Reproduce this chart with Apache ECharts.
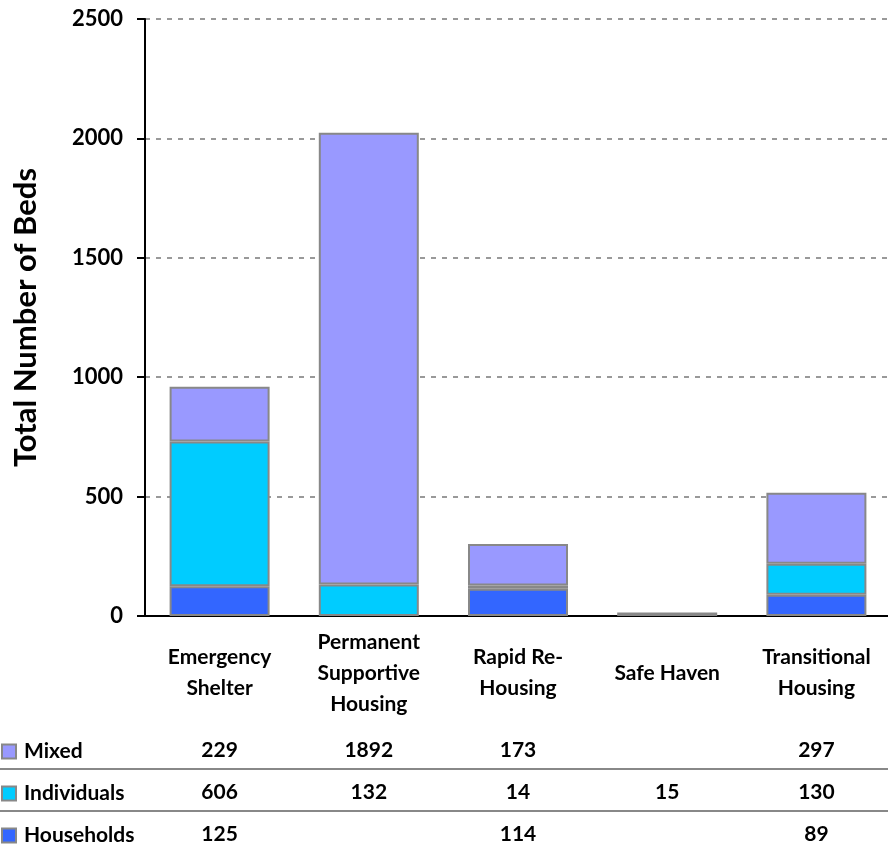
<!DOCTYPE html>
<html>
<head>
<meta charset="utf-8">
<script src="https://cdn.jsdelivr.net/npm/echarts@6/dist/echarts.min.js"></script>
<style>html,body{margin:0;padding:0;background:#fff}#c{width:888px;height:846px}</style>
</head>
<body>
<div id="c"></div>
<script>
var categories = ['Emergency\nShelter', 'Permanent\nSupportive\nHousing', 'Rapid Re-\nHousing', 'Safe Haven', 'Transitional\nHousing'];
var households = [125, null, 114, null, 89];
var individuals = [606, 132, 14, 15, 130];
var mixed = [229, 1892, 173, null, 297];
var seriesNames = ['Households', 'Individuals', 'Mixed'];
var legendOrder = ['Mixed', 'Individuals', 'Households'];
var yTicks = [0, 500, 1000, 1500, 2000, 2500];

var FONT = 'Lato, "Open Sans", sans-serif';
var colors = { Households: '#3366FF', Individuals: '#00CCFF', Mixed: '#9999FF' };
var dataByName = { Households: households, Individuals: individuals, Mixed: mixed };
var rowCenter = { Mixed: 750, Individuals: 792, Households: 834 };
var axisZeroY = 616;

var chart = echarts.init(document.getElementById('c'));

function tableAxis(name) {
  var arr = dataByName[name];
  return {
    type: 'category', gridIndex: 0, position: 'bottom', offset: rowCenter[name] - axisZeroY,
    data: categories,
    axisLine: { show: false }, axisTick: { show: false }, splitLine: { show: false },
    axisLabel: {
      interval: 0, margin: 0, verticalAlign: 'middle',
      fontFamily: FONT, fontWeight: 'bold', fontSize: 21, color: '#000',
      formatter: function (v, i) { return arr[i] == null ? '' : String(arr[i]); }
    }
  };
}

var option = {
  animation: false,
  backgroundColor: '#fff',
  grid: { left: 145, top: 19, width: 746, bottom: 846 - axisZeroY, containLabel: false, outerBoundsMode: 'none' },
  legend: legendOrder.map(function (n) {
    return {
      orient: 'vertical', left: 1, top: rowCenter[n] - 9, itemWidth: 14, itemHeight: 14,
      padding: 0,
      data: [n], icon: 'rect',
      textStyle: { fontFamily: FONT, fontWeight: 'bold', fontSize: 21, color: '#000', padding: [0, 0, 0, 3] },
      selectedMode: false
    };
  }),
  xAxis: [
    {
      type: 'category', data: categories, gridIndex: 0,
      axisLine: { lineStyle: { color: '#000', width: 2 } },
      axisTick: { show: false },
      axisLabel: {
        interval: 0, margin: 57, verticalAlign: 'middle', lineHeight: 31,
        fontFamily: FONT, fontWeight: 'bold', fontSize: 21, color: '#000'
      }
    },
    tableAxis('Mixed'),
    tableAxis('Individuals'),
    tableAxis('Households')
  ],
  yAxis: {
    type: 'value', min: yTicks[0], max: yTicks[yTicks.length - 1], interval: 500,
    name: 'Total Number of Beds', nameLocation: 'middle', nameGap: 104,
    nameTextStyle: { fontFamily: FONT, fontWeight: 'bold', fontSize: 31, color: '#000' },
    axisLine: { show: true, lineStyle: { color: '#000', width: 2 } },
    axisTick: { show: true, length: 8, lineStyle: { color: '#000', width: 2 } },
    axisLabel: {
      margin: 22, fontFamily: FONT, fontWeight: 'bold', fontSize: 22, color: '#000',
      formatter: function (v) { return String(v); }
    },
    splitLine: { show: true, lineStyle: { color: '#999', width: 2, type: [5, 6] } }
  },
  series: seriesNames.map(function (n) {
    return {
      name: n, type: 'bar', stack: 'beds', barWidth: 100,
      data: dataByName[n],
      itemStyle: { color: colors[n], borderColor: '#888', borderWidth: 2 }
    };
  }),
  graphic: [
    { type: 'line', shape: { x1: 0, y1: 769, x2: 888, y2: 769 }, style: { stroke: '#888', lineWidth: 2 } },
    { type: 'line', shape: { x1: 0, y1: 811, x2: 888, y2: 811 }, style: { stroke: '#888', lineWidth: 2 } }
  ]
};
chart.setOption(option);
</script>
</body>
</html>
